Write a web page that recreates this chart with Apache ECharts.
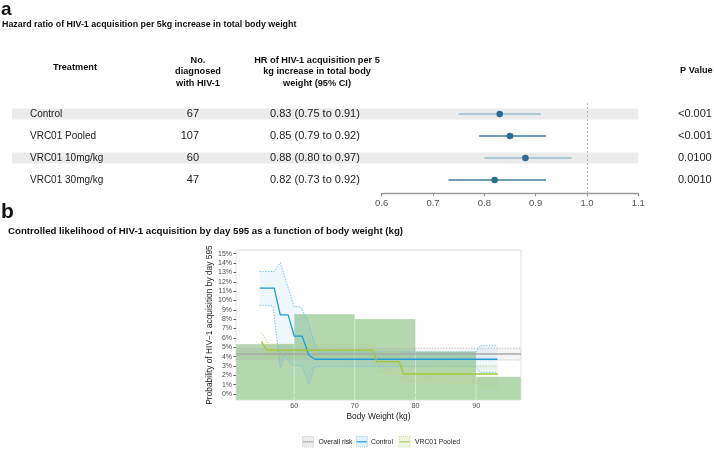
<!DOCTYPE html>
<html><head><meta charset="utf-8">
<script src="https://cdn.jsdelivr.net/npm/echarts@6/dist/echarts.min.js"></script>
<style>html,body{margin:0;padding:0;background:#fff}#c{width:714px;height:449px}</style>
</head><body><div id="c"></div>
<script>
// ---------- Panel a data ----------
const treatments = ['Control', 'VRC01 Pooled', 'VRC01 10mg/kg', 'VRC01 30mg/kg'];
const nDiagnosed = [67, 107, 60, 47];
const hrEst = [0.83, 0.85, 0.88, 0.82];
const hrLow = [0.75, 0.79, 0.80, 0.73];
const hrHigh = [0.91, 0.92, 0.97, 0.92];
const pValues = ['<0.001', '<0.001', '0.0100', '0.0010'];
const forestTicks = [0.6, 0.7, 0.8, 0.9, 1.0, 1.1];

// ---------- Panel b data ----------
const histEdges = [50.4, 60, 70, 80, 90, 97.4];
const histHeights = [5.35, 8.55, 8.03, 4.55, 1.85];
const overallX = [50.4, 97.4];
const overallRisk = [4.28, 4.28];
const overallUpper = [4.9, 4.9];
const overallLower = [3.64, 3.64];
const controlX = [54.3, 56.7, 57.7, 59.0, 60.0, 61.3, 62.4, 63.4, 93.5];
const controlY = [11.33, 11.33, 8.47, 8.47, 6.2, 6.2, 4.18, 3.72, 3.72];
const controlUpX = [54.3, 56.7, 57.7, 58.6, 60.0, 61.0, 62.2, 63.4, 64.4, 90.0, 90.6, 93.5];
const controlUpY = [13.1, 13.1, 14.05, 12.2, 9.35, 9.35, 7.93, 5.32, 4.5, 4.5, 5.17, 5.17];
const controlLoX = [54.3, 56.5, 57.7, 58.5, 59.1, 59.9, 61.3, 62.4, 63.4, 90.0, 90.6, 93.5];
const controlLoY = [9.5, 9.43, 2.75, 4.18, 3.46, 3.03, 3.03, 0.96, 2.93, 2.93, 2.28, 2.28];
const pooledX = [54.6, 55.5, 73.0, 73.6, 77.3, 78.0, 93.6];
const pooledY = [5.6, 4.68, 4.68, 3.46, 3.46, 2.14, 2.14];
const pooledUpX = [54.6, 55.8, 73.0, 73.6, 77.3, 78.0, 93.6];
const pooledUpY = [6.6, 5.32, 5.32, 4.46, 4.46, 3.0, 3.0];
const pooledLoX = [54.6, 55.8, 73.0, 73.6, 77.3, 78.0, 85.0, 85.5, 90.2, 90.8, 93.6];
const pooledLoY = [4.5, 4.0, 4.0, 2.2, 2.2, 1.32, 1.32, 1.14, 1.14, 0.61, 0.61];
const yTicks = [0,1,2,3,4,5,6,7,8,9,10,11,12,13,14,15];
const xTicks = [60, 70, 80, 90];
const legendNames = ['Overall risk', 'Control', 'VRC01 Pooled'];

const FONT = 'Liberation Sans, Arial, Helvetica, sans-serif';
const chart = echarts.init(document.getElementById('c'), null, {renderer: 'canvas'});

const pairs = (xs, ys) => xs.map((x, i) => [x, ys[i]]);
const Y_MIN = -0.64, Y_MAX = 15.4;

function ribbonSeries(name, ux, uy, lx, ly, fill) {
  return {
    type: 'custom', name, xAxisIndex: 2, yAxisIndex: 2, z: 3, silent: true,
    data: [[ux[0], uy[0]]], encode: {x: 0, y: 1},
    renderItem: (params, api) => {
      const pts = ux.map((x, i) => api.coord([x, uy[i]]))
        .concat(lx.map((x, i) => api.coord([x, ly[i]])).reverse());
      return {type: 'polygon', shape: {points: pts}, style: {fill: fill}};
    }
  };
}
function lineSeries(name, xs, ys, color, width, dotted, z) {
  return {
    type: 'line', name, xAxisIndex: 2, yAxisIndex: 2, data: pairs(xs, ys),
    symbol: 'none', silent: true, z: z || 5, animation: false,
    lineStyle: {color, width, type: dotted ? [1.2, 1.6] : 'solid'}
  };
}

const HEAD = {fontSize: 9.2, fontWeight: 'bold', fill: '#111', fontFamily: FONT};

const option = {
  animation: false,
  backgroundColor: '#fff',
  textStyle: {fontFamily: FONT},
  grid: [
    {left: 381.7, width: 256.6, top: 103, height: 90.2},          // forest
    {left: 0, right: 0, top: 103, height: 90.2},                  // table
    {left: 236, right: 193, top: 250, bottom: 49, show: true, borderColor: '#e0e0e0', borderWidth: 1, backgroundColor: '#fff', z: 0}
  ],
  xAxis: [
    {gridIndex: 0, type: 'value', min: 0.6, max: 1.1, interval: 0.1,
      axisLine: {show: true, onZero: false, lineStyle: {color: '#9a9a9a', width: 1.4}},
      axisTick: {show: true, length: 3, lineStyle: {color: '#9a9a9a'}},
      axisLabel: {color: '#555', fontSize: 9.5, margin: 5, formatter: v => v.toFixed(1), fontFamily: FONT},
      splitLine: {show: false}},
    {gridIndex: 1, type: 'value', min: 0, max: 714, show: false},
    {gridIndex: 2, type: 'value', min: 50.4, max: 97.4, name: 'Body Weight (kg)',
      nameLocation: 'middle', nameGap: 13, nameMoveOverlap: false,
      nameTextStyle: {fontSize: 8.4, color: '#222', fontFamily: FONT},
      axisLine: {show: false}, splitLine: {show: false},
      axisTick: {show: true, length: 2.5, lineStyle: {color: '#555'}, customValues: xTicks},
      axisLabel: {color: '#4d4d4d', fontSize: 7.2, margin: 3, customValues: xTicks, fontFamily: FONT}}
  ],
  yAxis: [
    {gridIndex: 0, type: 'value', min: 0.5, max: 4.6, inverse: true, show: false},
    {gridIndex: 1, type: 'value', min: 0.5, max: 4.6, inverse: true, show: false},
    {gridIndex: 2, type: 'value', min: Y_MIN, max: Y_MAX,
      name: 'Probability of HIV\u22121 acquisition by day 595', nameLocation: 'middle', nameGap: 22,
      nameMoveOverlap: false,
      nameTextStyle: {fontSize: 8.4, color: '#222', fontFamily: FONT},
      axisLine: {show: false}, splitLine: {show: false},
      axisTick: {show: true, length: 2.5, lineStyle: {color: '#555'}, customValues: yTicks},
      axisLabel: {color: '#4d4d4d', fontSize: 7, margin: 4, customValues: yTicks, formatter: '{value}%', fontFamily: FONT}}
  ],
  series: [
    // zebra bands
    {type: 'custom', xAxisIndex: 1, yAxisIndex: 1, z: 1, silent: true,
      data: treatments.map((t, i) => [i + 1]).filter((d, i) => i % 2 === 0),
      encode: {y: 0},
      renderItem: (params, api) => {
        const r = api.value(0);
        const p0 = api.coord([12, r - 0.25]);
        const p1 = api.coord([638, r + 0.25]);
        return {type: 'rect', shape: {x: p0[0], y: p0[1], width: p1[0] - p0[0], height: p1[1] - p0[1]}, style: {fill: '#ebebeb'}};
      }},
    // table text
    {type: 'custom', xAxisIndex: 1, yAxisIndex: 1, z: 4, silent: true,
      data: treatments.map((t, i) => [i + 1]), encode: {y: 0},
      renderItem: (params, api) => {
        const i = params.dataIndex, r = api.value(0);
        const st = (txt, align, fs) => ({text: txt, fill: '#222', fontSize: fs, fontFamily: FONT, align, verticalAlign: 'middle'});
        const c = x => api.coord([x, r]);
        const hrTxt = hrEst[i].toFixed(2) + ' (' + hrLow[i].toFixed(2) + ' to ' + hrHigh[i].toFixed(2) + ')';
        return {type: 'group', children: [
          {type: 'text', x: c(30)[0], y: c(30)[1], style: st(treatments[i], 'left', 10)},
          {type: 'text', x: c(199)[0], y: c(199)[1], style: st(String(nDiagnosed[i]), 'right', 11)},
          {type: 'text', x: c(270)[0], y: c(270)[1], style: st(hrTxt, 'left', 11)},
          {type: 'text', x: c(678)[0], y: c(678)[1], style: st(pValues[i], 'left', 11)}
        ]};
      }},
    // forest CI + points
    {type: 'custom', xAxisIndex: 0, yAxisIndex: 0, z: 5, silent: true,
      data: treatments.map((t, i) => [hrEst[i], i + 1, hrLow[i], hrHigh[i]]), encode: {x: 0, y: 1},
      renderItem: (params, api) => {
        const i = params.dataIndex;
        const r = api.value(1);
        const a = api.coord([api.value(2), r]), b = api.coord([api.value(3), r]), m = api.coord([api.value(0), r]);
        const lc = i % 2 === 0 ? '#9cbdcf' : '#3f7e9d';
        return {type: 'group', children: [
          {type: 'line', shape: {x1: a[0], y1: a[1], x2: b[0], y2: b[1]}, style: {stroke: lc, lineWidth: 1.3}},
          {type: 'circle', shape: {cx: m[0], cy: m[1], r: 3.3}, style: {fill: '#2b6d8c'}}
        ]};
      },
      markLine: {silent: true, symbol: 'none', label: {show: false},
        lineStyle: {color: '#aaa', type: [2, 2], width: 0.8}, data: [{xAxis: 1.0}]}
    },
    // histogram
    {type: 'custom', xAxisIndex: 2, yAxisIndex: 2, z: 2, silent: true,
      data: histHeights.map((h, i) => [histEdges[i], histEdges[i + 1], h]), encode: {x: [0, 1], y: 2},
      renderItem: (params, api) => {
        const p0 = api.coord([api.value(0), api.value(2)]);
        const p1 = api.coord([api.value(1), Y_MIN]);
        return {type: 'rect', shape: {x: p0[0], y: p0[1], width: p1[0] - p0[0], height: p1[1] - p0[1]},
          style: {fill: '#b4d7af', stroke: 'rgba(255,255,255,0.45)', lineWidth: 0.6}};
      }},
    ribbonSeries('Overall risk band', overallX, overallUpper, overallX, overallLower, 'rgba(120,120,120,0.08)'),
    ribbonSeries('Control band', controlUpX, controlUpY, controlLoX, controlLoY, 'rgba(60,170,225,0.09)'),
    ribbonSeries('VRC01 Pooled band', pooledUpX, pooledUpY, pooledLoX, pooledLoY, 'rgba(170,200,80,0.07)'),
    lineSeries('ou', overallX, overallUpper, '#bdbdbd', 1, true, 4),
    lineSeries('ol', overallX, overallLower, '#bdbdbd', 1, true, 4),
    lineSeries('cu', controlUpX, controlUpY, '#6bbde6', 1, true, 4),
    lineSeries('cl', controlLoX, controlLoY, '#6bbde6', 1, true, 4),
    lineSeries('pu', pooledUpX, pooledUpY, '#bcd679', 1, true, 4),
    lineSeries('pl', pooledLoX, pooledLoY, '#bcd679', 1, true, 4),
    lineSeries('Overall risk', overallX, overallRisk, '#a9a9a9', 1.3, false, 6),
    lineSeries('Control', controlX, controlY, '#1f9bd8', 1.3, false, 7),
    lineSeries('VRC01 Pooled', pooledX, pooledY, '#a4c93c', 1.3, false, 7)
  ],
  graphic: [
    {type: 'text', x: 1, y: 0, style: {text: 'a', fontSize: 19, fontWeight: 'bold', fill: '#111', fontFamily: FONT}},
    {type: 'text', x: 2, y: 25, style: Object.assign({}, HEAD, {text: 'Hazard ratio of HIV-1 acquisition per 5kg increase in total body weight', fontSize: 8.9, verticalAlign: 'middle'})},
    {type: 'text', x: 75, y: 67, style: Object.assign({}, HEAD, {text: 'Treatment', align: 'center', verticalAlign: 'middle'})},
    {type: 'text', x: 198, y: 71.5, style: Object.assign({}, HEAD, {text: 'No.\ndiagnosed\nwith HIV-1', lineHeight: 11.5, align: 'center', verticalAlign: 'middle'})},
    {type: 'text', x: 317, y: 71.5, style: Object.assign({}, HEAD, {text: 'HR of HIV-1 acquisition per 5\nkg increase in total body\nweight (95% CI)', lineHeight: 11.5, align: 'center', verticalAlign: 'middle'})},
    {type: 'text', x: 680, y: 70, style: Object.assign({}, HEAD, {text: 'P Value', verticalAlign: 'middle'})},
    {type: 'text', x: 1, y: 202, style: {text: 'b', fontSize: 21, fontWeight: 'bold', fill: '#111', fontFamily: FONT}},
    {type: 'text', x: 8, y: 231, style: Object.assign({}, HEAD, {text: 'Controlled likelihood of HIV-1 acquisition by day 595 as a function of body weight (kg)', fontSize: 9.7, verticalAlign: 'middle'})}
  ]
};

// legend keys (built from legend names)
const legendCfg = [
  {x: 302.5, tx: 318.5, fill: '#ededed', stroke: '#c4c4c4', line: '#b3b3b3'},
  {x: 356.5, tx: 371, fill: '#e4f2fa', stroke: '#7cc4e8', line: '#2fa3dc'},
  {x: 399, tx: 415, fill: '#eef3e2', stroke: '#c3da8a', line: '#b3d06a'}
];
legendNames.forEach((n, i) => {
  const c = legendCfg[i];
  option.graphic.push({type: 'rect', shape: {x: c.x, y: 436.5, width: 11, height: 10.5},
    style: {fill: c.fill, stroke: c.stroke, lineWidth: 0.8, lineDash: [1, 1]}});
  option.graphic.push({type: 'line', shape: {x1: c.x + 0.5, y1: 441.8, x2: c.x + 10.5, y2: 441.8},
    style: {stroke: c.line, lineWidth: 1.3}});
  option.graphic.push({type: 'text', x: c.tx, y: 441.8, style: {text: n, fontSize: 6.8, fill: '#222', fontFamily: FONT, verticalAlign: 'middle'}});
});

chart.setOption(option);
</script></body></html>
